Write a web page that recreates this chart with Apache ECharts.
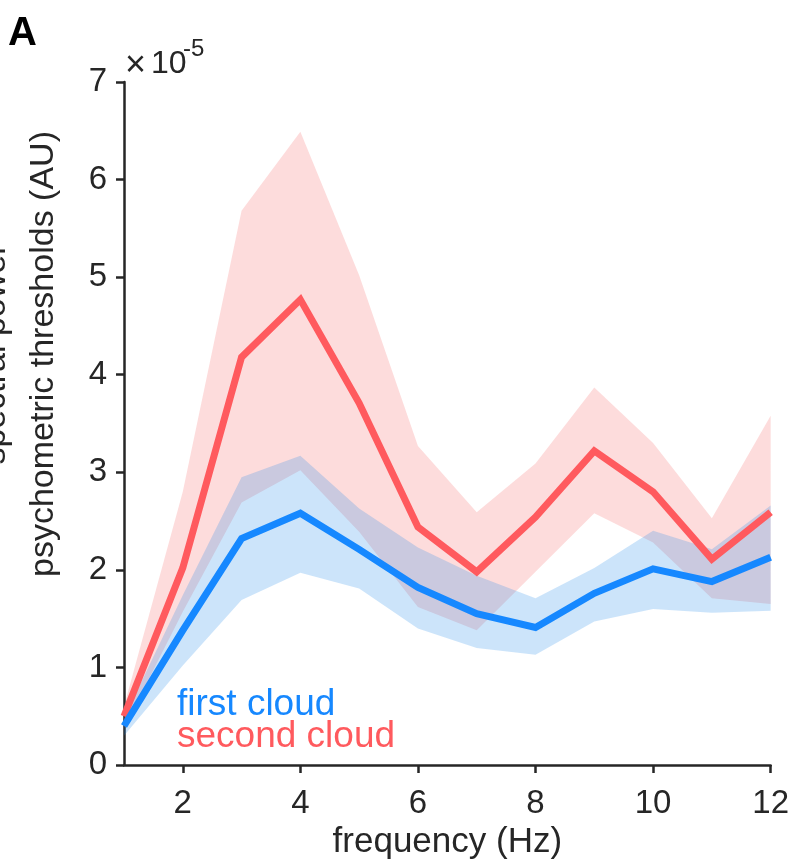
<!DOCTYPE html>
<html>
<head>
<meta charset="utf-8">
<script src="https://cdn.jsdelivr.net/npm/echarts@6/dist/echarts.min.js"></script>
<style>
  html, body { margin: 0; padding: 0; background: #fff; }
  #chart { width: 792px; height: 868px; }
</style>
</head>
<body>
<div id="chart"></div>
<script>
// Stimulus frequencies (Hz)
const freq = [1, 2, 3, 4, 5, 6, 7, 8, 9, 10, 11, 12];

// Thresholds in units of 1e-5 (AU): mean and shaded band limits
const firstMean  = [0.40, 1.38, 2.32, 2.58, 2.21, 1.82, 1.55, 1.41, 1.76, 2.01, 1.88, 2.13];
const firstUpper = [0.48, 1.74, 2.95, 3.17, 2.63, 2.23, 1.94, 1.71, 2.02, 2.40, 2.21, 2.66];
const firstLower = [0.30, 1.02, 1.69, 1.97, 1.81, 1.40, 1.20, 1.13, 1.47, 1.60, 1.56, 1.58];

const secondMean  = [0.50, 2.02, 4.18, 4.77, 3.71, 2.44, 1.98, 2.54, 3.22, 2.80, 2.11, 2.59];
const secondUpper = [0.60, 2.80, 5.68, 6.49, 5.02, 3.27, 2.59, 3.09, 3.87, 3.30, 2.53, 3.58];
const secondLower = [0.38, 1.57, 2.69, 3.02, 2.39, 1.62, 1.38, 1.98, 2.58, 2.28, 1.71, 1.65];

// Axis ticks
const xTicks = [2, 4, 6, 8, 10, 12];
const yTicks = [0, 1, 2, 3, 4, 5, 6, 7];

const blue = '#1688FF';
const red = '#FF5A5E';
const blueFill = 'rgba(28,135,233,0.225)';
const redFill = 'rgba(245,80,80,0.2)';
const ink = '#262626';
const font = 'Arial, "Liberation Sans", Helvetica, sans-serif';

const pairs = (ys) => freq.map((x, i) => [x, ys[i]]);

// Shaded band between lower and upper, drawn as one polygon in axis coordinates
function band(lower, upper, fill) {
  return {
    type: 'custom',
    silent: true,
    z: 1,
    data: freq.map((x, i) => [x, lower[i], upper[i]]),
    encode: { x: 0, y: [1, 2] },
    renderItem: function (params, api) {
      if (params.dataIndex !== 0) return null;
      const pts = [];
      for (let i = 0; i < freq.length; i++) pts.push(api.coord([freq[i], upper[i]]));
      for (let i = freq.length - 1; i >= 0; i--) pts.push(api.coord([freq[i], lower[i]]));
      return { type: 'polygon', shape: { points: pts }, style: { fill: fill, stroke: null } };
    }
  };
}

const chart = echarts.init(document.getElementById('chart'), null, { renderer: 'canvas' });

chart.setOption({
  animation: false,
  backgroundColor: '#ffffff',
  grid: { left: 124, right: 20, top: 82, bottom: 103, containLabel: false },
  xAxis: {
    type: 'value', min: 1, max: 12,
    name: 'frequency (Hz)', nameLocation: 'middle', nameGap: 60,
    nameTextStyle: { fontFamily: font, fontSize: 35, color: ink },
    axisLine: { show: true, onZero: false, lineStyle: { color: ink, width: 2.5 } },
    axisTick: { show: true, length: 8, customValues: xTicks, lineStyle: { color: ink, width: 2.5 } },
    axisLabel: { customValues: xTicks, margin: 22, fontFamily: font, fontSize: 33, color: ink },
    splitLine: { show: false }
  },
  yAxis: {
    type: 'value', min: 0, max: 7, interval: 1,
    axisLine: { show: true, lineStyle: { color: ink, width: 2.5 } },
    axisTick: { show: true, length: 8, lineStyle: { color: ink, width: 2.5 } },
    axisLabel: { margin: 17, fontFamily: font, fontSize: 33, color: ink,
      formatter: (v) => yTicks.includes(v) ? String(v) : '' },
    splitLine: { show: false }
  },
  series: [
    band(secondLower, secondUpper, redFill),
    band(firstLower, firstUpper, blueFill),
    {
      name: 'second cloud', type: 'line', data: pairs(secondMean), symbol: 'none',
      lineStyle: { color: red, width: 7, join: 'miter' }, z: 3
    },
    {
      name: 'first cloud', type: 'line', data: pairs(firstMean), symbol: 'none',
      lineStyle: { color: blue, width: 7, join: 'miter' }, z: 4
    }
  ],
  graphic: [
    // panel letter
    { type: 'text', left: 8, top: 14,
      style: { text: 'A', font: 'bold 40px ' + font, fill: '#000' } },
    // axis exponent: ×10^-5
    { type: 'text', left: 125, top: 48,
      style: { text: '\u00d7', font: '36px ' + font, fill: ink } },
    { type: 'text', left: 151, top: 48,
      style: { text: '10', font: '32px ' + font, fill: ink } },
    { type: 'text', left: 183, top: 37,
      style: { text: '-5', font: '24px ' + font, fill: ink } },
    // y-axis title (two lines)
    { type: 'text', x: 20, y: 354, rotation: Math.PI / 2,
      style: { text: 'spectral power\npsychometric thresholds (AU)', font: '34px ' + font,
        fill: ink, align: 'center', verticalAlign: 'middle', lineHeight: 48 } },
    // legend labels
    { type: 'text', left: 177, top: 686,
      style: { text: 'first cloud', font: '37px ' + font, fill: blue } },
    { type: 'text', left: 177, top: 718,
      style: { text: 'second cloud', font: '37px ' + font, fill: red } }
  ]
});
</script>
</body>
</html>
